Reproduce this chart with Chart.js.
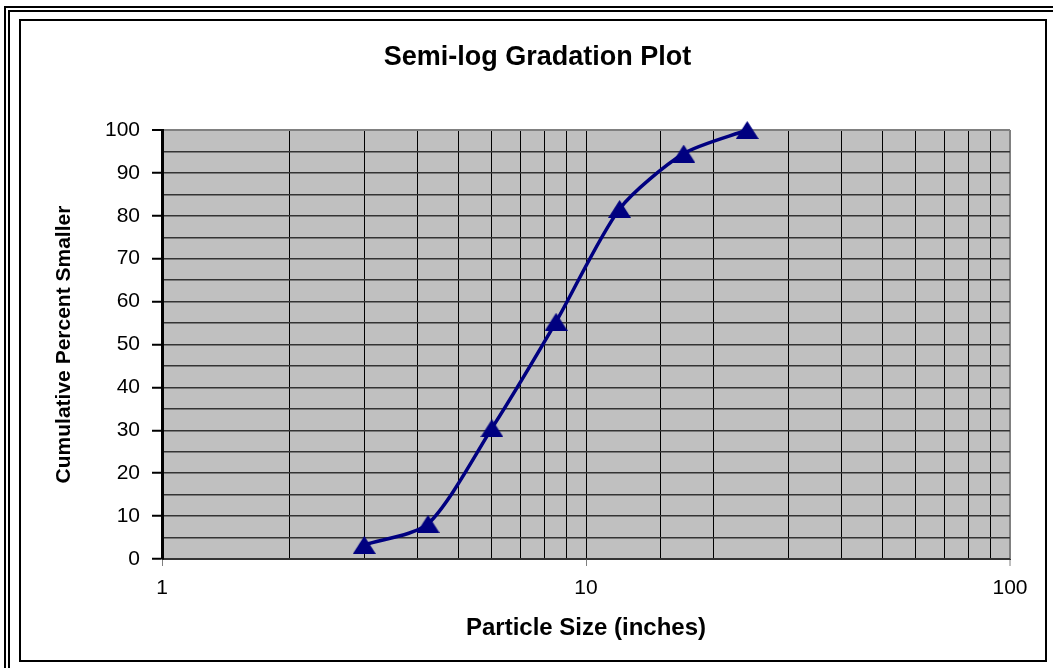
<!DOCTYPE html>
<html>
<head>
<meta charset="utf-8">
<title>Semi-log Gradation Plot</title>
<script src="https://cdn.jsdelivr.net/npm/chart.js@4.4.1/dist/chart.umd.min.js"></script>
<style>
    html, body { margin: 0; padding: 0; background: #fff; overflow: hidden; }
    #outer { position: absolute; left: 4px; top: 6px; width: 2000px; height: 2000px; border-left: 6px double #000; border-top: 6px double #000; }
    #frame { position: absolute; left: 19px; top: 19px; width: 1028px; height: 643px; box-sizing: border-box; border: 2px solid #000; }
    #chartBox { position: absolute; left: 0; top: 0; width: 1053px; height: 668px; }
</style>
</head>
<body>
<div id="outer"></div>
<div id="frame"></div>
<div id="chartBox"><canvas id="gradation" width="1053" height="668"></canvas></div>
<script>
// Sieve data
const particleSize = [3, 4.24, 6, 8.5, 12, 17, 24];
const percentSmaller = [3.3, 8.2, 30.5, 55.3, 81.6, 94.5, 100];

// Labelled ticks
const xTickLabels = [1, 10, 100];
const yTickLabels = [0, 10, 20, 30, 40, 50, 60, 70, 80, 90, 100];

const FONT = "'Liberation Sans', Arial, sans-serif";
const NAVY = '#000080';

function inList(v, list) {
    return list.some(t => Math.abs(t - v) < 1e-6);
}

// Excel style triangle marker: centred on its bounding box, not its centroid
function makeTriangle(w, h) {
    const c = document.createElement('canvas');
    c.width = w;
    c.height = h;
    const g = c.getContext('2d');
    g.fillStyle = NAVY;
    g.beginPath();
    g.moveTo(w / 2, 0);
    g.lineTo(w, h);
    g.lineTo(0, h);
    g.closePath();
    g.fill();
    return c;
}
const triangle = makeTriangle(23, 18);

// Grey plot area like the old Excel charts
const plotBackground = {
    id: 'plotBackground',
    beforeDraw(chart) {
        const { ctx, chartArea: a } = chart;
        ctx.save();
        ctx.fillStyle = '#c0c0c0';
        ctx.fillRect(a.left, a.top, a.right - a.left, a.bottom - a.top);
        ctx.restore();
    }
};

const ctx = document.getElementById('gradation').getContext('2d');

new Chart(ctx, {
    type: 'line',
    data: {
        datasets: [{
            data: particleSize.map((x, i) => ({ x: x, y: percentSmaller[i] })),
            borderColor: NAVY,
            backgroundColor: NAVY,
            borderWidth: 3.5,
            tension: 0.25,
            pointStyle: triangle,
            pointRadius: 11,
            clip: false
        }]
    },
    options: {
        responsive: false,
        animation: false,
        layout: { padding: { left: 65, right: 43, top: 0, bottom: 0 } },
        plugins: {
            legend: { display: false },
            tooltip: { enabled: false },
            title: {
                display: true,
                text: 'Semi-log Gradation Plot',
                color: '#000',
                font: { family: FONT, size: 27, weight: 'bold', lineHeight: 1.2 },
                padding: { top: 41, bottom: 56.6 }
            }
        },
        scales: {
            x: {
                type: 'logarithmic',
                min: 1,
                max: 100,
                afterFit: scale => { scale.height = 109; },
                border: { display: true, color: '#333', width: 1 },
                grid: {
                    color: c => (c.tick && Math.abs(c.tick.value - 100) < 1e-6) ? '#808080' : '#000',
                    lineWidth: c => (c.tick && Math.abs(c.tick.value - 100) < 1e-6) ? 2 : 1,
                    tickColor: c => (c.tick && inList(c.tick.value, xTickLabels)) ? '#808080' : 'rgba(0,0,0,0)',
                    tickLength: 7,
                    tickWidth: 1
                },
                ticks: {
                    autoSkip: false,
                    maxRotation: 0,
                    padding: 10,
                    color: '#000',
                    font: { family: FONT, size: 21 },
                    callback: v => inList(v, xTickLabels) ? String(v) : ''
                },
                title: {
                    display: true,
                    text: 'Particle Size (inches)',
                    color: '#000',
                    font: { family: FONT, size: 24, weight: 'bold', lineHeight: 1.2 },
                    padding: { top: 0, bottom: 25 }
                }
            },
            y: {
                min: 0,
                max: 100,
                afterFit: scale => { scale.width = 97; },
                border: { display: true, color: '#000', width: 3 },
                grid: {
                    color: c => (c.tick && c.tick.value === 100) ? '#808080' : '#333',
                    lineWidth: c => (c.tick && c.tick.value === 100) ? 2 : 1.5,
                    tickColor: c => (c.tick && inList(c.tick.value, yTickLabels)) ? '#000' : 'rgba(0,0,0,0)',
                    tickLength: 10,
                    tickWidth: 2
                },
                ticks: {
                    stepSize: 5,
                    autoSkip: false,
                    padding: 12,
                    color: '#000',
                    font: { family: FONT, size: 21 },
                    callback: v => inList(v, yTickLabels) ? String(v) : ''
                },
                title: {
                    display: true,
                    text: 'Cumulative Percent Smaller',
                    color: '#000',
                    font: { family: FONT, size: 21, weight: 'bold', lineHeight: 1.2 },
                    padding: { top: -13, bottom: 0 }
                }
            }
        }
    },
    plugins: [plotBackground]
});
</script>
</body>
</html>
